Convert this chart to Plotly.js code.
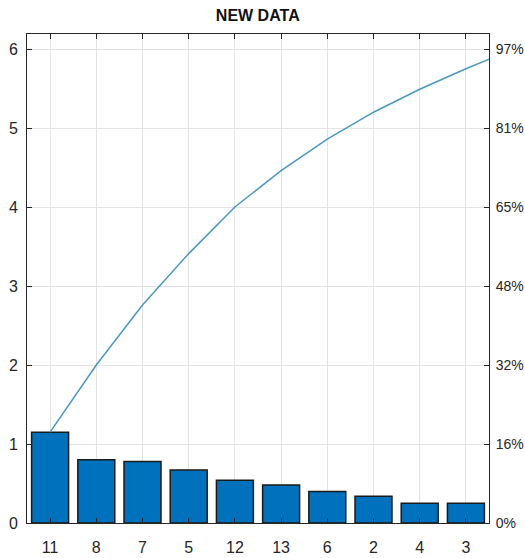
<!DOCTYPE html>
<html>
<head>
<meta charset="utf-8">
<script src="https://cdn.plot.ly/plotly-3.0.1.min.js"></script>
<style>
  html, body { margin: 0; padding: 0; background: #ffffff; }
  #chart { width: 525px; height: 558px; }
</style>
</head>
<body>
<div id="chart"></div>
<script>
// Category labels (sorted descending, as in a Pareto chart)
const categories = ['11', '8', '7', '5', '12', '13', '6', '2', '4', '3'];
// Bar heights
const counts = [1.15, 0.80, 0.78, 0.67, 0.54, 0.48, 0.40, 0.34, 0.25, 0.25];
// Cumulative line (the 11th point lies beyond the visible range)
const cumulative = [1.15, 2.00, 2.76, 3.41, 4.00, 4.46, 4.86, 5.20, 5.49, 5.75, 5.99];
// Total of all data (top of the axes)
const total = 6.19;
// Left axis ticks and right axis percentage labels
const leftTicks = [0, 1, 2, 3, 4, 5, 6];
const rightLabels = ['0%', '16%', '32%', '48%', '65%', '81%', '97%'];

const positions = categories.map((c, i) => i + 1);
const linePositions = cumulative.map((c, i) => i + 1);

const fontFam = '"Liberation Sans", Arial, Helvetica, sans-serif';
const textColor = '#262626';
const axisColor = '#262626';
const gridColor = '#e3e3e3';

const traces = [
  {
    type: 'bar',
    x: positions,
    y: counts,
    width: 0.8,
    marker: { color: '#0072BD', line: { color: '#1a1a1a', width: 1.5 } },
    hoverinfo: 'x+y',
    showlegend: false
  },
  {
    type: 'scatter',
    mode: 'lines',
    x: linePositions,
    y: cumulative,
    yaxis: 'y2',
    line: { color: '#4a98c2', width: 1.5 },
    showlegend: false
  }
];

const layout = {
  width: 525,
  height: 558,
  margin: { l: 27, r: 36, t: 34, b: 35, pad: 0 },
  paper_bgcolor: '#ffffff',
  plot_bgcolor: '#ffffff',
  title: {
    text: '<b>NEW DATA</b>',
    font: { family: fontFam, size: 16, color: '#111111' },
    x: 0.491,
    xanchor: 'center',
    y: 0.972,
    yanchor: 'middle'
  },
  xaxis: {
    range: [0.5, 10.5],
    tickvals: positions,
    ticktext: categories,
    showgrid: true,
    gridcolor: gridColor,
    gridwidth: 1,
    zeroline: false,
    showline: true,
    linecolor: axisColor,
    linewidth: 1,
    mirror: 'ticks',
    ticks: 'inside',
    ticklen: 5,
    tickcolor: axisColor,
    tickfont: { family: fontFam, size: 16, color: textColor },
    ticklabelstandoff: 10,
    fixedrange: true
  },
  yaxis: {
    range: [0, total],
    tickvals: leftTicks,
    ticktext: leftTicks.map(String),
    showgrid: true,
    gridcolor: gridColor,
    gridwidth: 1,
    zeroline: false,
    showline: true,
    linecolor: axisColor,
    linewidth: 1,
    ticks: 'inside',
    ticklen: 5,
    tickcolor: axisColor,
    tickfont: { family: fontFam, size: 16, color: textColor },
    ticklabelstandoff: 5,
    fixedrange: true
  },
  yaxis2: {
    overlaying: 'y',
    side: 'right',
    range: [0, total],
    tickvals: leftTicks,
    ticktext: rightLabels,
    showgrid: false,
    zeroline: false,
    showline: true,
    linecolor: axisColor,
    linewidth: 1,
    ticks: 'inside',
    ticklen: 5,
    tickcolor: axisColor,
    tickfont: { family: fontFam, size: 14, color: textColor },
    ticklabelstandoff: 3,
    fixedrange: true
  },
  bargap: 0.2
};

Plotly.newPlot('chart', traces, layout, { displayModeBar: false, staticPlot: true });
</script>
</body>
</html>
